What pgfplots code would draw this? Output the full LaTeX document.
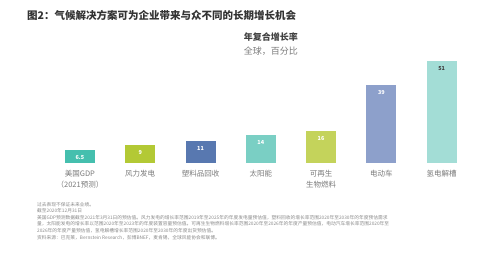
\documentclass[border=0pt]{standalone}
\usepackage{fontspec}
\setmainfont{Noto Sans CJK SC}
\usepackage{pgfplots}
\pgfplotsset{compat=1.18}
\definecolor{c1}{HTML}{45BFAE}
\definecolor{c2}{HTML}{B3C935}
\definecolor{c3}{HTML}{5878B0}
\definecolor{c4}{HTML}{7ACFC4}
\definecolor{c5}{HTML}{C4D35B}
\definecolor{c6}{HTML}{8DA0CB}
\definecolor{c7}{HTML}{A3DDD6}
\definecolor{tgrey}{HTML}{7A7A7A}
\definecolor{fgrey}{HTML}{8A8A8A}
\begin{document}
\begin{tikzpicture}[x=1pt,y=1pt]
\path[use as bounding box] (0,0) rectangle (498,276);
\node[anchor=west,font=\fontsize{10.5}{12}\selectfont\bfseries,text=black!80,inner sep=0] at (27,261) {图2：气候解决方案可为企业带来与众不同的长期增长机会};
\node[anchor=east,font=\fontsize{9}{11}\selectfont\bfseries,text=black!75,inner sep=0] at (298,239) {年复合增长率};
\node[anchor=east,font=\fontsize{9}{11}\selectfont,text=tgrey,inner sep=0] at (298,225) {全球，百分比};
\begin{axis}[
  at={(49.8pt,113pt)}, anchor=south west,
  scale only axis, width=422pt, height=110pt,
  xmin=-0.5, xmax=6.5, ymin=0, ymax=55,
  axis lines=none,
  ybar, bar width=30pt, bar shift=0pt,
  xtick={0,1,2,3,4,5,6},
  xticklabels={{美国GDP\\（2021预测）},风力发电,塑料品回收,太阳能,{可再生\\生物燃料},电动车,氢电解槽},
  xticklabel style={align=center,font=\fontsize{7.5}{11}\selectfont,text=tgrey,anchor=north,yshift=-4pt},
  hide x axis=false,
  x axis line style={draw=none}, major tick length=0pt,
  nodes near coords,
  every node near coord/.append style={anchor=north,yshift=-2pt,font=\fontsize{5.5}{6}\selectfont\bfseries,text=white},
  point meta=explicit symbolic,
]
\addplot[fill=c1,draw=none] coordinates {(0,6.5) [6.5]};
\addplot[fill=c2,draw=none] coordinates {(1,9) [9]};
\addplot[fill=c3,draw=none] coordinates {(2,11) [11]};
\addplot[fill=c4,draw=none] coordinates {(3,14) [14]};
\addplot[fill=c5,draw=none] coordinates {(4,16) [16]};
\addplot[fill=c6,draw=none] coordinates {(5,39) [39]};
\addplot[fill=c7,draw=none,every node near coord/.append style={text=black!75}] coordinates {(6,51) [51]};
\end{axis}
\node[anchor=north west,align=left,inner sep=0,text=fgrey,font=\fontsize{4.75}{6.6}\selectfont] at (37,74) {%
过去表现不保证未来业绩。\\
截至2020年12月31日\\
美国GDP预测数据截至2021年3月31日的预估值。风力发电的增长率范围2019年至2025年的年度发电量预估值，塑料回收的增长率范围2020年至2030年的年度预估需求\\
量，太阳能发电的增长率以范围2020年至2023年的年度装置容量预估值。可再生生物燃料增长率范围2020年至2026年的年度产量预估值，电动汽车增长率范围2020年至\\
2026年的年度产量预估值，氢电解槽增长率范围2020年至2030年的年度出货预估值。\\
资料来源：巴克莱，Bernstein Research，彭博BNEF，麦肯锡，全球风能协会和联博。};
\end{tikzpicture}
\end{document}
